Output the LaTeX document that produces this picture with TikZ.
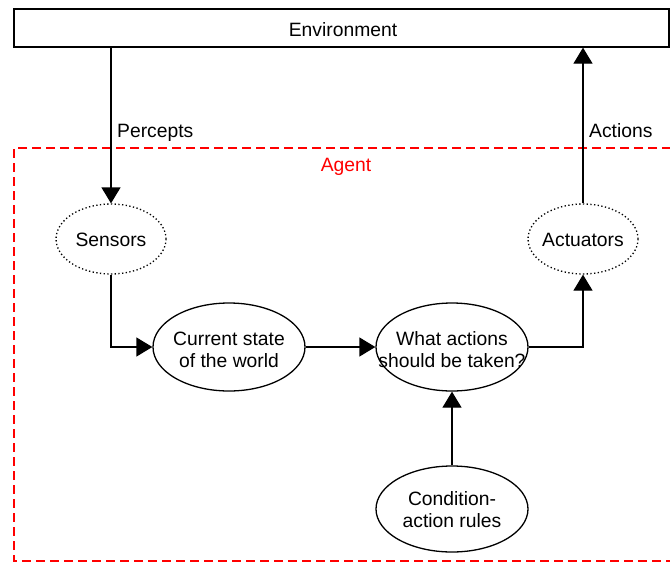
\documentclass[tikz,border=0pt]{standalone}
\usepackage{fontspec}
\setmainfont{Liberation Sans}
\usetikzlibrary{arrows.meta,shapes.geometric}
\begin{document}
\begin{tikzpicture}[x=1pt,y=-1pt,
  every node/.style={font=\fontsize{19.3}{22}\selectfont},
  blob/.style={ellipse,draw,line width=1.3pt,inner sep=0pt,
    minimum width=152pt,minimum height=88pt},
  blobtext/.style={align=center,inner sep=0pt},
  portbox/.style={ellipse,draw,line width=1.3pt,inner sep=0pt,align=center,
    dash pattern=on 1.3pt off 2.4pt,minimum width=110pt,minimum height=70pt},
  conn/.style={line width=1.3pt,-{Triangle[width=19pt,length=16pt]}},
  agentframe/.style={red,line width=1.2pt,dash pattern=on 9pt off 5pt}
]
\useasboundingbox (0,0) rectangle (670,563);

% outer world
\node[draw,line width=1.3pt,minimum width=655pt,minimum height=38pt,inner sep=0pt]
  (env) at (341.5,28) {};
\node[inner sep=0pt] (envtxt) at (343,30) {Environment};

% agent boundary (open on the right edge)
\draw[agentframe] (671,148) -- (14,148) -- (14,561) -- (671,561);
\node[text=red] (agentlbl) at (346,167) {Agent};

% components
\node[portbox] (sens) at (111,239) {};
\node[inner sep=0pt] (senstxt) at (111,240) {Sensors};
\node[portbox] (actu) at (583,239) {};
\node[inner sep=0pt] (actutxt) at (583,240) {Actuators};

\node[blob] (cur) at (229,347) {};
\node[blobtext] (curtxt) at (229,350) {Current state\\of the world};
\node[blob] (what) at (452,347) {};
\node[blobtext] (whattxt) at (452,350) {What actions\\should be taken?};
\node[blob,minimum height=86pt] (cond) at (452,509) {};
\node[blobtext] (condtxt) at (452,510) {Condition-\\action rules};

% labels on the environment links
\node[anchor=base west,inner sep=0pt] (perc) at (117,137) {Percepts};
\node[anchor=base west,inner sep=0pt] (acts) at (589,137) {Actions};

% connectors
\draw[conn] (sens.north |- env.south) -- (sens.north);
\draw[conn] (actu.north) -- (actu.north |- env.south);
\draw[conn] (sens.south) |- (cur.west);
\draw[conn] (cur.east) -- (what.west);
\draw[conn] (what.east) -| (actu.south);
\draw[conn] (cond.north) -- (what.south);
\end{tikzpicture}
\end{document}
